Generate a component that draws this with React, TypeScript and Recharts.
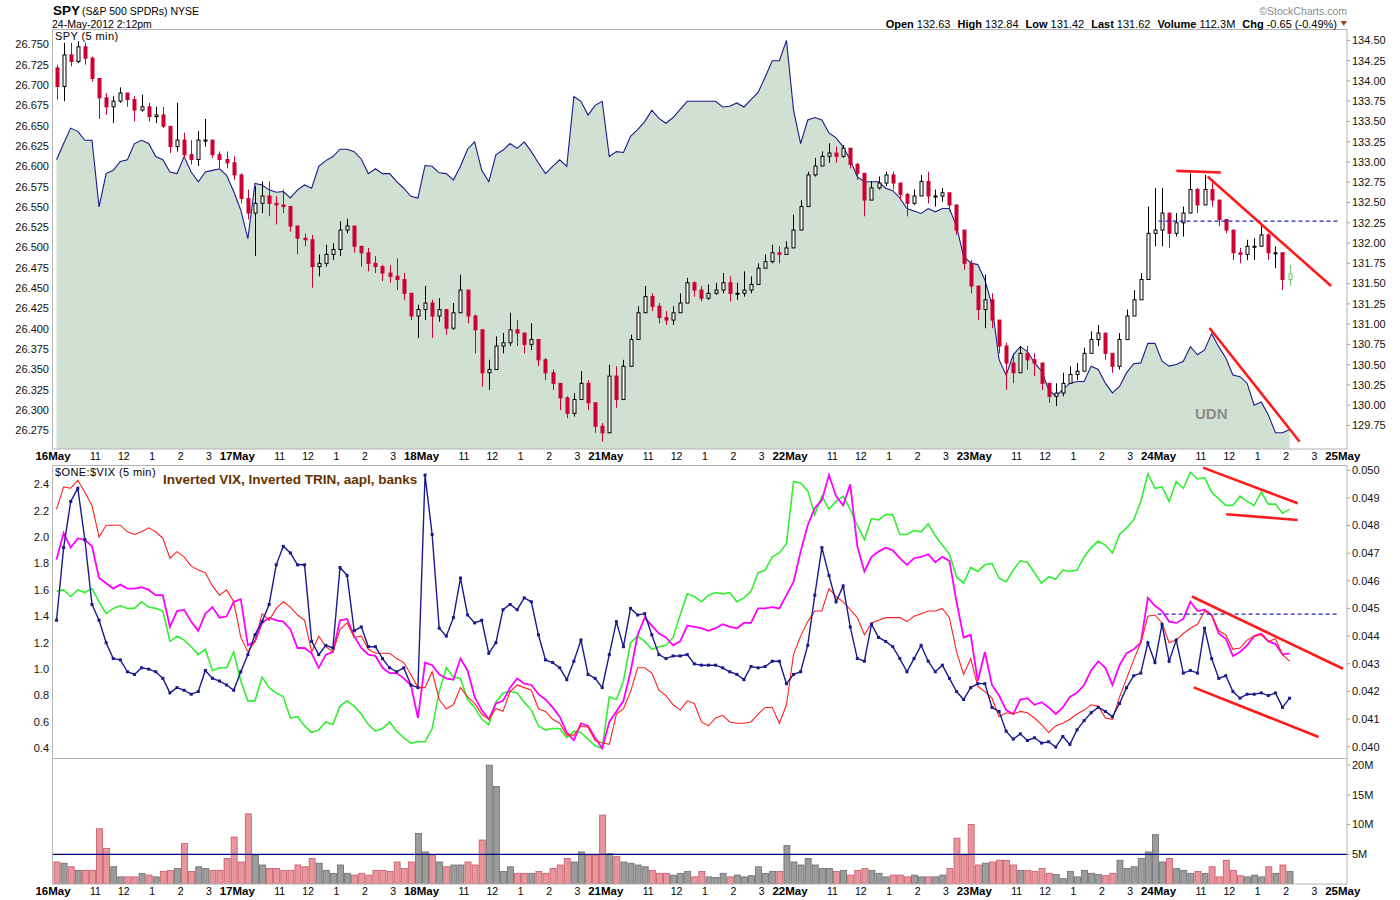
import React from 'react';
import { ComposedChart, Bar, Line, Area, XAxis, YAxis, ReferenceLine } from 'recharts';

const FONT = '"Liberation Sans", Arial, Helvetica, sans-serif';

// ---- axis / calendar ----
const dayLabels = ['16May', '17May', '18May', '21May', '22May', '23May', '24May', '25May'];
const hourLabels = ['11', '12', '1', '2', '3'];
const hourOffsets = [1.5, 2.5, 3.5, 4.5, 5.5]; // hours after 9:30 open
const DAY_HOURS = 6.5;
const SLOT_HOURS = 0.25;
const X_MAX = 45.65;

const udnTicks = [26.275, 26.3, 26.325, 26.35, 26.375, 26.4, 26.425, 26.45, 26.475, 26.5, 26.525, 26.55, 26.575, 26.6, 26.625, 26.65, 26.675, 26.7, 26.725, 26.75];
const priceTicks = [129.75, 130, 130.25, 130.5, 130.75, 131, 131.25, 131.5, 131.75, 132, 132.25, 132.5, 132.75, 133, 133.25, 133.5, 133.75, 134, 134.25, 134.5];
const midLeftTicks = [0.4, 0.6, 0.8, 1.0, 1.2, 1.4, 1.6, 1.8, 2.0, 2.2, 2.4];
const midRightTicks = [0.04, 0.041, 0.042, 0.043, 0.044, 0.045, 0.046, 0.047, 0.048, 0.049, 0.05];
const volTicks = [5, 10, 15, 20];

// ---- SPY 15-min candles: [high, low, close] ----
const firstOpen = 134.16;
const spy16 = [[134.20,133.77,133.93],[134.47,133.75,134.32],[134.47,134.18,134.24],[134.49,134.22,134.42],[134.47,134.20,134.28],[134.30,133.99,134.03],[134.01,133.53,133.79],[133.85,133.58,133.68],[133.81,133.48,133.75],[133.92,133.73,133.85],[133.85,133.68,133.77],[133.81,133.50,133.64],[133.83,133.62,133.68],[133.73,133.50,133.56],[133.68,133.48,133.58],[133.68,133.42,133.44],[133.44,133.11,133.19],[133.73,133.13,133.27],[133.36,133.05,133.09],[133.27,132.97,133.03],[133.38,132.95,133.27],[133.53,133.19,133.27],[133.25,133.05,133.09],[133.13,132.92,133.03],[133.13,132.92,132.99],[133.07,132.78,132.84]];
const spy17 = [[132.86,132.49,132.55],[132.66,132.29,132.37],[132.70,131.84,132.49],[132.76,132.37,132.58],[132.76,132.33,132.49],[132.58,132.23,132.47],[132.66,132.37,132.45],[132.45,132.14,132.21],[132.16,131.86,132.06],[132.12,131.96,132.04],[132.10,131.45,131.71],[131.86,131.59,131.75],[131.98,131.71,131.86],[132.00,131.79,131.92],[132.27,131.84,132.16],[132.30,132.12,132.21],[132.16,131.88,131.96],[131.96,131.71,131.88],[131.94,131.65,131.75],[131.84,131.63,131.71],[131.73,131.53,131.63],[131.73,131.51,131.59],[131.81,131.42,131.55],[131.63,131.30,131.38],[131.38,131.05,131.10],[131.24,130.83,131.18]];
const spy18 = [[131.47,131.05,131.26],[131.30,130.83,131.10],[131.32,131.03,131.18],[131.18,130.87,130.95],[131.26,130.93,131.14],[131.61,131.30,131.42],[131.42,131.01,131.10],[131.12,130.64,130.93],[130.89,130.23,130.40],[130.56,130.19,130.44],[130.85,130.48,130.73],[130.89,130.64,130.77],[131.14,130.73,130.93],[131.05,130.73,130.89],[130.89,130.64,130.75],[131.01,130.68,130.81],[130.77,130.48,130.56],[130.58,130.31,130.40],[130.44,130.19,130.27],[130.27,129.94,130.09],[130.11,129.84,129.90],[130.15,129.86,130.07],[130.42,130.07,130.27],[130.31,129.94,130.03],[129.97,129.66,129.74],[129.78,129.55,129.66]];
const spy21 = [[130.50,129.66,130.36],[130.48,129.97,130.07],[130.56,130.23,130.48],[130.87,130.60,130.81],[131.22,130.89,131.14],[131.47,131.18,131.34],[131.38,131.16,131.22],[131.26,131.01,131.08],[131.16,130.99,131.05],[131.22,130.99,131.14],[131.38,131.14,131.26],[131.57,131.34,131.51],[131.53,131.34,131.42],[131.47,131.28,131.32],[131.49,131.30,131.38],[131.51,131.36,131.42],[131.63,131.38,131.51],[131.59,131.28,131.38],[131.51,131.30,131.38],[131.65,131.34,131.42],[131.59,131.38,131.49],[131.75,131.59,131.69],[131.86,131.69,131.77],[131.98,131.75,131.88],[131.96,131.75,131.86],[132.02,131.88,131.94]];
const spy22 = [[132.35,131.96,132.16],[132.53,132.21,132.45],[132.88,132.53,132.84],[133.05,132.82,132.95],[133.13,132.95,133.07],[133.23,132.99,133.11],[133.19,132.99,133.07],[133.21,133.05,133.17],[133.15,132.92,132.97],[132.99,132.78,132.86],[132.86,132.33,132.53],[132.76,132.60,132.68],[132.82,132.66,132.74],[132.88,132.70,132.84],[132.88,132.66,132.74],[132.74,132.53,132.60],[132.62,132.33,132.49],[132.66,132.47,132.58],[132.84,132.62,132.76],[132.88,132.49,132.58],[132.66,132.45,132.58],[132.68,132.51,132.62],[132.55,132.39,132.47],[132.29,132.10,132.16],[132.04,131.67,131.75],[131.79,131.38,131.47]];
const spy23 = [[131.47,131.05,131.18],[131.61,130.95,131.30],[131.38,130.95,131.05],[130.93,130.64,130.73],[130.77,130.19,130.52],[130.64,130.27,130.40],[130.73,130.48,130.64],[130.73,130.44,130.56],[130.64,130.36,130.52],[130.48,130.19,130.27],[130.23,130.03,130.11],[130.27,129.99,130.15],[130.40,130.11,130.27],[130.48,130.27,130.38],[130.52,130.31,130.42],[130.71,130.48,130.64],[130.91,130.64,130.81],[130.99,130.73,130.89],[130.89,130.56,130.64],[130.64,130.40,130.48],[130.89,130.44,130.81],[131.18,130.89,131.10],[131.42,131.18,131.30],[131.63,131.38,131.55],[132.45,131.88,132.12],[132.68,131.96,132.16]];
const spy24 = [[132.68,131.96,132.37],[132.29,131.94,132.12],[132.37,132.08,132.25],[132.45,132.08,132.37],[132.86,132.53,132.66],[132.68,132.37,132.47],[132.84,132.49,132.66],[132.78,132.45,132.53],[132.41,132.21,132.29],[132.29,132.12,132.16],[132.16,131.79,131.88],[131.94,131.75,131.86],[132.04,131.79,131.96],[132.06,131.79,131.96],[132.21,132.02,132.10],[132.12,131.79,131.88],[131.96,131.69,131.88],[131.88,131.42,131.55],[131.73,131.47,131.62]];

// ---- UDN (left axis of top panel) ----
const udn16 = [26.608,26.628,26.647,26.643,26.632,26.632,26.550,26.591,26.595,26.606,26.608,26.628,26.632,26.628,26.612,26.608,26.593,26.591,26.612,26.593,26.581,26.593,26.595,26.597,26.589,26.569];
const udn17 = [26.546,26.511,26.579,26.577,26.571,26.568,26.569,26.561,26.571,26.577,26.573,26.600,26.607,26.612,26.621,26.621,26.618,26.609,26.591,26.597,26.591,26.591,26.581,26.573,26.563,26.561];
const udn18 = [26.601,26.600,26.592,26.591,26.583,26.600,26.621,26.630,26.595,26.581,26.614,26.620,26.628,26.622,26.630,26.618,26.604,26.591,26.600,26.608,26.600,26.686,26.680,26.663,26.675,26.680];
const udn21 = [26.612,26.618,26.617,26.637,26.645,26.655,26.669,26.659,26.653,26.660,26.670,26.680,26.680,26.680,26.680,26.680,26.673,26.674,26.678,26.673,26.682,26.691,26.710,26.730,26.730,26.755];
const udn22 = [26.669,26.628,26.657,26.660,26.657,26.641,26.635,26.624,26.608,26.587,26.581,26.581,26.581,26.573,26.570,26.561,26.548,26.545,26.542,26.548,26.544,26.548,26.548,26.526,26.489,26.481];
const udn23 = [26.479,26.460,26.429,26.362,26.343,26.368,26.378,26.372,26.358,26.348,26.325,26.317,26.325,26.333,26.335,26.335,26.354,26.350,26.333,26.321,26.329,26.346,26.357,26.358,26.382,26.382];
const udn24 = [26.360,26.354,26.356,26.360,26.378,26.368,26.374,26.394,26.378,26.364,26.343,26.341,26.333,26.306,26.310,26.294,26.272,26.272,26.276];

// ---- middle panel: $ONE:$VIX (navy), inverted VIX (red), inverted TRIN (magenta), banks (green) ----
const navy16 = [1.37,1.92,2.27,2.37,1.98,1.49,1.37,1.20,1.08,1.07,0.98,0.96,1.01,1.00,0.98,0.93,0.82,0.86,0.84,0.81,0.83,0.99,0.93,0.91,0.88,0.84];
const navy17 = [0.98,1.11,1.26,1.36,1.49,1.79,1.93,1.88,1.79,1.79,1.21,1.11,1.18,1.16,1.77,1.71,1.29,1.32,1.17,1.17,1.08,1.01,0.98,1.01,0.88,0.86];
const navy18 = [2.47,2.02,1.31,1.25,1.39,1.69,1.41,1.35,1.37,1.12,1.20,1.45,1.49,1.45,1.54,1.51,1.26,1.07,1.05,1.01,0.92,1.06,1.22,0.96,0.93,0.86];
const navy21 = [1.11,1.36,1.17,1.46,1.41,1.42,1.26,1.11,1.08,1.10,1.10,1.11,1.04,1.03,1.03,1.03,1.01,0.98,0.96,0.92,1.02,1.01,1.02,1.06,1.06,0.89];
const navy22 = [0.96,0.98,1.18,1.56,1.92,1.71,1.51,1.63,1.32,1.08,1.06,1.34,1.24,1.21,1.17,1.08,0.98,1.08,1.18,1.06,0.98,1.03,0.93,0.83,0.77,0.86];
const navy23 = [0.89,0.89,0.71,0.68,0.53,0.47,0.51,0.46,0.48,0.44,0.45,0.41,0.49,0.43,0.54,0.61,0.67,0.71,0.68,0.64,0.74,0.86,0.95,0.97,1.20,1.05];
const navy24 = [1.34,1.06,1.22,0.97,0.99,0.97,1.31,1.08,0.93,0.95,0.83,0.78,0.81,0.81,0.82,0.80,0.82,0.71,0.78];

const red16 = [2.21,2.38,2.37,2.43,2.34,2.24,2.00,2.09,2.09,2.09,2.04,2.02,2.04,2.07,2.04,1.99,1.84,1.89,1.85,1.78,1.75,1.73,1.63,1.56,1.60,1.51];
const red17 = [1.24,1.13,1.21,1.42,1.37,1.46,1.51,1.47,1.41,1.37,1.13,1.25,1.17,1.13,1.30,1.35,1.24,1.25,1.15,1.12,1.12,1.12,1.08,1.05,0.96,0.86];
const red18 = [0.86,0.98,0.77,0.70,0.73,0.86,0.79,0.74,0.66,0.62,0.70,0.68,0.83,0.88,0.86,0.84,0.70,0.68,0.62,0.59,0.50,0.50,0.57,0.56,0.46,0.44];
const red21 = [0.43,0.66,0.70,0.83,1.01,1.01,0.97,0.84,0.80,0.73,0.69,0.76,0.74,0.60,0.57,0.63,0.65,0.60,0.59,0.59,0.60,0.66,0.71,0.71,0.59,0.73];
const red22 = [1.11,1.25,1.36,1.44,1.44,1.61,1.55,1.51,1.45,1.39,1.26,1.35,1.37,1.39,1.39,1.39,1.36,1.40,1.42,1.44,1.44,1.46,1.39,1.13,0.96,1.08];
const red23 = [0.87,0.83,0.78,0.64,0.67,0.66,0.68,0.67,0.63,0.58,0.52,0.57,0.59,0.62,0.66,0.69,0.73,0.72,0.63,0.62,0.79,0.93,1.07,1.20,1.40,1.41];
const red24 = [1.35,1.20,1.22,1.27,1.31,1.34,1.44,1.41,1.29,1.26,1.15,1.16,1.22,1.25,1.26,1.21,1.23,1.11,1.06];

const mag16 = [1.83,2.03,1.92,1.99,1.98,1.93,1.69,1.65,1.61,1.64,1.61,1.61,1.62,1.60,1.56,1.56,1.32,1.44,1.45,1.36,1.29,1.42,1.47,1.39,1.40,1.51];
const mag17 = [1.53,1.18,1.21,1.35,1.39,1.37,1.36,1.30,1.16,1.16,1.12,1.01,1.11,1.13,1.37,1.38,1.25,1.16,1.11,1.10,1.01,0.97,0.97,0.93,0.88,0.63];
const mag18 = [1.05,1.03,0.96,0.93,0.92,1.08,0.99,0.79,0.69,0.62,0.74,0.76,0.86,0.93,0.89,0.88,0.81,0.77,0.71,0.64,0.52,0.46,0.59,0.57,0.48,0.40];
const mag21 = [0.60,0.68,0.76,0.98,1.26,1.39,1.33,1.27,1.24,1.18,1.21,1.33,1.32,1.31,1.29,1.31,1.34,1.32,1.31,1.35,1.35,1.46,1.46,1.47,1.46,1.56];
const mag22 = [1.66,1.89,2.09,2.22,2.28,2.47,2.31,2.24,2.40,1.93,1.74,1.85,1.89,1.92,1.90,1.84,1.79,1.84,1.85,1.87,1.81,1.85,1.82,1.51,1.24,1.26];
const mag23 = [0.91,1.13,0.88,0.80,0.69,0.66,0.77,0.78,0.73,0.75,0.71,0.66,0.71,0.79,0.82,0.88,0.99,1.06,1.01,0.88,1.03,1.12,1.15,1.20,1.54,1.48];
const mag24 = [1.44,1.36,1.35,1.38,1.51,1.44,1.45,1.41,1.27,1.23,1.10,1.13,1.18,1.25,1.27,1.21,1.19,1.11,1.12];

const grn16 = [1.59,1.60,1.55,1.60,1.58,1.61,1.51,1.42,1.46,1.48,1.46,1.46,1.51,1.47,1.46,1.44,1.21,1.25,1.22,1.17,1.11,1.15,0.99,1.01,1.01,1.13];
const grn17 = [0.91,0.76,0.76,0.94,0.86,0.82,0.79,0.63,0.64,0.57,0.52,0.54,0.60,0.58,0.72,0.76,0.72,0.66,0.58,0.53,0.55,0.60,0.53,0.48,0.44,0.45];
const grn18 = [0.45,0.55,0.83,1.01,0.94,0.93,0.77,0.71,0.62,0.58,0.75,0.82,0.83,0.82,0.75,0.69,0.57,0.54,0.55,0.55,0.48,0.53,0.52,0.47,0.42,0.40];
const grn21 = [0.79,0.77,0.91,1.20,1.25,1.21,1.15,1.17,1.18,1.24,1.41,1.57,1.55,1.51,1.56,1.58,1.57,1.58,1.51,1.54,1.59,1.73,1.75,1.85,1.88,1.95];
const grn22 = [2.42,2.41,2.35,2.17,2.31,2.21,2.27,2.31,2.21,2.09,1.98,2.14,2.13,2.17,2.17,2.02,2.02,2.05,2.04,2.10,2.01,1.94,1.87,1.70,1.65,1.77];
const grn23 = [1.74,1.79,1.80,1.69,1.66,1.75,1.82,1.81,1.73,1.65,1.70,1.68,1.75,1.74,1.75,1.85,1.92,1.97,1.94,1.88,2.02,2.07,2.13,2.27,2.48,2.37];
const grn24 = [2.38,2.27,2.42,2.37,2.49,2.44,2.45,2.34,2.29,2.24,2.24,2.31,2.27,2.24,2.34,2.25,2.25,2.18,2.21];

// ---- volume (millions) ----
const vol16 = [3.7,3.5,2.9,2.3,2.3,2.3,9.3,6.0,2.9,1.2,1.2,1.2,1.8,1.5,1.2,2.1,2.3,2.6,6.8,2.1,2.9,2.6,2.3,2.3,4.3,7.9];
const vol17 = [3.7,11.8,4.9,3.2,2.6,2.6,2.3,2.3,3.2,2.9,4.3,3.5,2.3,1.8,3.2,1.8,1.5,1.8,1.5,2.3,2.3,2.1,3.7,2.6,3.7,8.5];
const vol18 = [5.4,4.9,3.7,2.9,3.2,3.2,3.7,3.2,7.4,20.0,16.4,2.1,2.9,1.8,1.8,1.8,2.1,1.8,2.6,3.2,4.3,3.7,5.4,4.9,4.9,11.6];
const vol21 = [5.1,4.6,3.7,3.5,3.2,2.9,2.3,1.8,1.8,1.5,1.8,2.1,1.2,2.1,1.2,1.1,1.8,1.2,1.5,1.2,1.4,2.9,1.8,2.1,2.1,6.5];
const vol22 = [3.7,3.2,4.3,3.2,2.6,2.6,2.1,2.3,1.5,2.3,2.6,2.3,1.8,1.2,1.5,1.5,1.2,1.5,1.2,1.2,1.2,1.5,2.6,7.7,4.9,10.0];
const vol23 = [3.2,3.5,3.7,4.0,4.0,3.2,2.3,2.3,2.1,2.6,1.8,1.6,0.9,2.1,1.2,2.3,1.8,1.6,1.4,1.8,4.0,2.6,2.9,4.3,5.4,8.3];
const vol24 = [3.7,4.3,2.6,2.3,1.8,2.1,1.8,2.9,1.2,4.0,2.3,1.4,1.2,1.5,1.2,2.9,1.8,3.2,2.1];

const avgVolume = 5;

// ---- annotations (data coordinates: hours since 16May open, value) ----
const spyTrendLines = [
  [[39.63, 132.89], [41.2, 132.87]],
  [[40.73, 132.82], [45.09, 131.47]],
];
const udnTrendLines = [[[40.8, 26.401], [43.98, 26.261]]];
const spyDashed = [[39.0, 132.27], [45.35, 132.27]];
const midTrendLines = [
  [[40.57, 2.526], [43.91, 2.256]],
  [[41.39, 2.173], [43.91, 2.13]],
  [[40.18, 1.55], [45.51, 1.003]],
  [[40.24, 0.862], [44.65, 0.486]],
];
const midDashed = [[38.97, 1.416], [45.35, 1.416]];

const headerStats = [
  ['Open', '132.63'], ['High', '132.84'], ['Low', '131.42'], ['Last', '131.62'], ['Volume', '112.3M'], ['Chg', '-0.65 (-0.49%)'],
];

// ---- build table ----
const spyDays = [spy16, spy17, spy18, spy21, spy22, spy23, spy24];
const udnDays = [udn16, udn17, udn18, udn21, udn22, udn23, udn24];
const navyDays = [navy16, navy17, navy18, navy21, navy22, navy23, navy24];
const redDays = [red16, red17, red18, red21, red22, red23, red24];
const magDays = [mag16, mag17, mag18, mag21, mag22, mag23, mag24];
const grnDays = [grn16, grn17, grn18, grn21, grn22, grn23, grn24];
const volDays = [vol16, vol17, vol18, vol21, vol22, vol23, vol24];

type Row = { t: number; o: number; h: number; l: number; c: number; udn: number; navy: number; red: number; mag: number; grn: number; vol: number; last: boolean };
const rows: Row[] = [];
{
  let prev = firstOpen;
  spyDays.forEach((day, d) => {
    day.forEach(([h, l, c], s) => {
      const o = prev;
      rows.push({
        t: d * DAY_HOURS + (s + 0.5) * SLOT_HOURS,
        o, h: Math.max(h, o, c), l: Math.min(l, o, c), c,
        udn: udnDays[d][s], navy: navyDays[d][s], red: redDays[d][s], mag: magDays[d][s], grn: grnDays[d][s], vol: volDays[d][s],
        last: false,
      });
      prev = c;
    });
  });
  rows[rows.length - 1].last = true;
}

const xTicks: { t: number; label: string; bold: boolean }[] = [];
dayLabels.forEach((lab, d) => {
  xTicks.push({ t: d * DAY_HOURS, label: lab, bold: true });
  if (d < dayLabels.length - 1) hourLabels.forEach((h, i) => xTicks.push({ t: d * DAY_HOURS + hourOffsets[i], label: h, bold: false }));
});
const xTickValues = xTicks.map((k) => k.t);

const XTick = (props: any) => {
  const { x, y, payload } = props;
  const tk = xTicks.find((k) => Math.abs(k.t - payload.value) < 1e-6);
  if (!tk) return null;
  return (
    <text x={x} y={y + 11} textAnchor="middle" fontFamily={FONT} fontSize={tk.bold ? 11.5 : 10.5} fontWeight={tk.bold ? 'bold' : 'normal'} fill="#000">
      {tk.label}
    </text>
  );
};

const RED = '#cc0033';

const Candle = (props: any) => {
  const { x, width, payload } = props;
  let { y, height } = props;
  if (height < 0) { y = y + height; height = -height; }
  const { o, h, l, c, last } = payload;
  const span = h - l || 1e-6;
  const py = (v: number) => y + ((h - v) / span) * height;
  const cx = Math.round(x + width / 2) + 0.5;
  const up = c >= o;
  const color = last ? '#66cc66' : up ? '#000' : RED;
  const top = py(Math.max(o, c));
  const bot = py(Math.min(o, c));
  const bw = 3;
  return (
    <g>
      <line x1={cx} x2={cx} y1={y} y2={y + height} stroke={color} strokeWidth={1} />
      <rect x={cx - bw / 2} y={top} width={bw} height={Math.max(1, bot - top)} fill={up || last ? '#fff' : color} stroke={color} strokeWidth={1} />
    </g>
  );
};

const VolBar = (props: any) => {
  const { x, y, width, height, payload } = props;
  const up = payload.c >= payload.o;
  return <rect x={x} y={y} width={width} height={Math.max(0, height)} fill={up ? '#9c9c9c' : '#e8969c'} stroke={up ? '#6c6c6c' : '#c4586a'} strokeWidth={0.8} />;
};

const SquareDot = (props: any) => {
  const { cx, cy, index } = props;
  if (cx == null || cy == null) return <g key={'d' + index} />;
  return <rect key={'d' + index} x={cx - 1.5} y={cy - 1.5} width={3} height={3} fill="#1a1a8c" />;
};

const tickStyle = { fontSize: 11, fill: '#111', fontFamily: FONT };

export default function App() {
  return (
    <div style={{ position: 'absolute', left: 0, top: 0, width: 1400, height: 900, background: '#fff', overflow: 'hidden', fontFamily: FONT }}>
      {/* top panel: SPY candles + UDN area */}
      <div style={{ position: 'absolute', left: 0, top: 0 }}>
        <ComposedChart width={1400} height={465} data={rows} margin={{ top: 29, right: 0, bottom: 0, left: 0 }}>
          <XAxis dataKey="t" type="number" domain={[0, X_MAX]} allowDataOverflow ticks={xTickValues} interval={0} tick={(p: any) => <XTick {...p} />} tickLine={false} axisLine={false} tickSize={0} tickMargin={0} height={16} />
          <YAxis yAxisId="left" orientation="left" type="number" domain={[26.252, 26.769]} allowDataOverflow ticks={udnTicks} interval={0} width={53} tickFormatter={(v: number) => v.toFixed(3)} tick={tickStyle} tickLine={false} axisLine={false} tickSize={0} tickMargin={4} />
          <YAxis yAxisId="right" orientation="right" type="number" domain={[129.46, 134.64]} allowDataOverflow ticks={priceTicks} interval={0} width={53} tickFormatter={(v: number) => v.toFixed(2)} tick={tickStyle} tickLine={{ stroke: '#999' }} axisLine={false} tickSize={3} tickMargin={2} />
          <Area yAxisId="left" dataKey="udn" type="linear" stroke="#1a1a8c" strokeWidth={1.1} fill="#d0e0d2" fillOpacity={1} isAnimationActive={false} dot={false} activeDot={false} />
          <Bar yAxisId="right" dataKey={(r: Row) => [r.l, r.h]} barSize={5} shape={(p: any) => <Candle {...p} />} isAnimationActive={false} />
          <ReferenceLine yAxisId="right" segment={[{ x: spyDashed[0][0], y: spyDashed[0][1] }, { x: spyDashed[1][0], y: spyDashed[1][1] }]} stroke="#2222cc" strokeWidth={1.2} strokeDasharray="4 3" />
          {spyTrendLines.map((seg, i) => (
            <ReferenceLine key={'st' + i} yAxisId="right" segment={[{ x: seg[0][0], y: seg[0][1] }, { x: seg[1][0], y: seg[1][1] }]} stroke="#ff1a1a" strokeWidth={2.6} />
          ))}
          {udnTrendLines.map((seg, i) => (
            <ReferenceLine key={'ut' + i} yAxisId="left" segment={[{ x: seg[0][0], y: seg[0][1] }, { x: seg[1][0], y: seg[1][1] }]} stroke="#ff1a1a" strokeWidth={2.6} />
          ))}
        </ComposedChart>
      </div>

      {/* middle panel */}
      <div style={{ position: 'absolute', left: 0, top: 465 }}>
        <ComposedChart width={1400} height={293} data={rows} margin={{ top: 0, right: 0, bottom: 0, left: 0 }}>
          <XAxis dataKey="t" type="number" domain={[0, X_MAX]} allowDataOverflow hide />
          <YAxis yAxisId="left" orientation="left" type="number" domain={[0.327, 2.546]} allowDataOverflow ticks={midLeftTicks} interval={0} width={53} tickFormatter={(v: number) => v.toFixed(1)} tick={tickStyle} tickLine={false} axisLine={false} tickSize={0} tickMargin={4} />
          <YAxis yAxisId="right" orientation="right" type="number" domain={[0.03959, 0.05019]} allowDataOverflow ticks={midRightTicks} interval={0} width={53} tickFormatter={(v: number) => v.toFixed(3)} tick={tickStyle} tickLine={{ stroke: '#999' }} axisLine={false} tickSize={3} tickMargin={2} />
          <Line yAxisId="left" dataKey="grn" type="linear" stroke="#33ee33" strokeWidth={1.6} dot={false} activeDot={false} isAnimationActive={false} />
          <Line yAxisId="left" dataKey="mag" type="linear" stroke="#ff00ff" strokeWidth={1.8} dot={false} activeDot={false} isAnimationActive={false} />
          <Line yAxisId="left" dataKey="red" type="linear" stroke="#ff2020" strokeWidth={1.1} dot={false} activeDot={false} isAnimationActive={false} />
          <Line yAxisId="left" dataKey="navy" type="linear" stroke="#1a1a8c" strokeWidth={1.4} dot={(p: any) => <SquareDot {...p} />} activeDot={false} isAnimationActive={false} />
          <ReferenceLine yAxisId="left" segment={[{ x: midDashed[0][0], y: midDashed[0][1] }, { x: midDashed[1][0], y: midDashed[1][1] }]} stroke="#2222cc" strokeWidth={1.2} strokeDasharray="4 3" />
          {midTrendLines.map((seg, i) => (
            <ReferenceLine key={'mt' + i} yAxisId="left" segment={[{ x: seg[0][0], y: seg[0][1] }, { x: seg[1][0], y: seg[1][1] }]} stroke="#ff1a1a" strokeWidth={2.6} />
          ))}
        </ComposedChart>
      </div>

      {/* volume panel */}
      <div style={{ position: 'absolute', left: 0, top: 758 }}>
        <ComposedChart width={1400} height={142} data={rows} margin={{ top: 0, right: 0, bottom: 0, left: 53 }}>
          <XAxis dataKey="t" type="number" domain={[0, X_MAX]} allowDataOverflow ticks={xTickValues} interval={0} tick={(p: any) => <XTick {...p} />} tickLine={false} axisLine={false} tickSize={0} tickMargin={0} height={16} />
          <YAxis yAxisId="right" orientation="right" type="number" domain={[0, 21.2]} allowDataOverflow ticks={volTicks} interval={0} width={53} tickFormatter={(v: number) => `${v}M`} tick={tickStyle} tickLine={{ stroke: '#999' }} axisLine={false} tickSize={3} tickMargin={2} />
          <Bar yAxisId="right" dataKey="vol" barSize={6} shape={(p: any) => <VolBar {...p} />} isAnimationActive={false} />
          <ReferenceLine yAxisId="right" y={avgVolume} stroke="#000080" strokeWidth={1.3} />
        </ComposedChart>
      </div>

      {/* frames and texts */}
      <svg width={1400} height={900} style={{ position: 'absolute', left: 0, top: 0, pointerEvents: 'none' }}>
        <rect x={52.5} y={29.5} width={1294.5} height={419.5} fill="none" stroke="#b4b4b4" />
        <rect x={52.5} y={465.5} width={1294.5} height={293} fill="none" stroke="#b4b4b4" />
        <rect x={52.5} y={758.5} width={1294.5} height={125.5} fill="none" stroke="#b4b4b4" />

        <text x={53} y={15} fontFamily={FONT} fontSize={13.5} fontWeight="bold" fill="#000">SPY</text>
        <text x={82} y={15} fontFamily={FONT} fontSize={10.5} fill="#000">(S&amp;P 500 SPDRs)  NYSE</text>
        <text x={52} y={27.5} fontFamily={FONT} fontSize={10.5} fill="#000">24-May-2012 2:12pm</text>
        <text x={1347} y={15} textAnchor="end" fontFamily={FONT} fontSize={10.5} fill="#8a8a8a">©StockCharts.com</text>
        <text x={1337} y={27.5} textAnchor="end" fontFamily={FONT} fontSize={11} fill="#000">
          {headerStats.map(([lab, val], i) => (
            <React.Fragment key={lab}>
              <tspan fontWeight="bold" dx={i ? 7 : 0}>{lab}</tspan>
              <tspan dx={3}>{val}</tspan>
            </React.Fragment>
          ))}
        </text>
        <polygon points="1340.5,21 1347,21 1343.75,26" fill="#b0401a" />

        <text x={55} y={40} fontFamily={FONT} fontSize={11} fill="#000" letterSpacing={0.4}>SPY (5 min)</text>
        <text x={1195} y={418.5} fontFamily={FONT} fontSize={15} fontWeight="bold" fill="#8c8c8c">UDN</text>

        <text x={55} y={476} fontFamily={FONT} fontSize={11} fill="#000" letterSpacing={0.4}>$ONE:$VIX (5 min)</text>
        <text x={163} y={484} fontFamily={FONT} fontSize={13.5} fontWeight="bold" fill="#663300">Inverted VIX, Inverted TRIN, aapl, banks</text>
      </svg>
    </div>
  );
}
